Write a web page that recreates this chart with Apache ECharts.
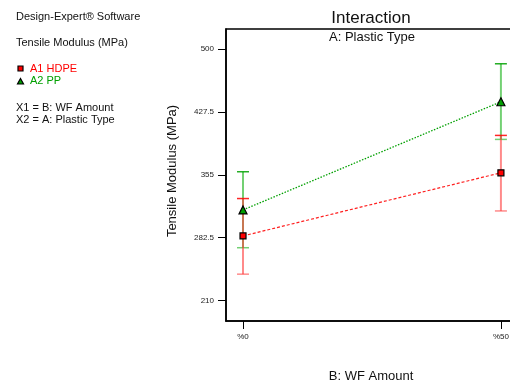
<!DOCTYPE html>
<html>
<head>
<meta charset="utf-8">
<script src="https://cdn.jsdelivr.net/npm/echarts@6/dist/echarts.min.js"></script>
<style>html,body{margin:0;padding:0;background:#fff;}#c{width:510px;height:385px;}</style>
</head>
<body>
<div id="c"></div>
<script>
// ---- data ----
var categories = ['%0', '%50'];
var xValues = [0, 50];
var yTicks = [210, 282.5, 355, 427.5, 500];
var hdpeMean = [284.5, 357.3];
var hdpeLow = [240.4, 313.3];
var hdpeHigh = [327.6, 400.4];
var ppMean = [314.5, 439.2];
var ppLow = [270.9, 395.8];
var ppHigh = [358.5, 483.0];

var FONT = "'Liberation Sans', Arial, sans-serif";
var RED = '#ff0000';
var GREEN = '#00a000';

var chart = echarts.init(document.getElementById('c'), null, {renderer: 'canvas'});

var errData = [];
for (var i = 0; i < xValues.length; i++) {
  errData.push([xValues[i], ppLow[i], ppHigh[i], 1]);
  errData.push([xValues[i], hdpeLow[i], hdpeHigh[i], 0]);
}

function toPairs(vals) {
  return vals.map(function (v, i) { return [xValues[i], v]; });
}

var option = {
  animation: false,
  backgroundColor: '#fff',
  grid: {left: 226, top: 29, width: 294, height: 292, outerBoundsMode: 'none', containLabel: false,
    show: true, borderColor: '#000', borderWidth: 1.5},
  xAxis: {
    type: 'value', min: -3.3, max: 53.7,
    splitLine: {show: false},
    axisLine: {show: true, onZero: false, lineStyle: {color: '#000', width: 1.5}},
    axisTick: {show: true, customValues: xValues, length: 8, lineStyle: {color: '#000', width: 1}},
    axisLabel: {show: true, customValues: xValues, margin: 12, fontSize: 8, color: '#222', fontFamily: FONT,
      formatter: function (v) { var k = xValues.indexOf(v); return k >= 0 ? categories[k] : ''; }}
  },
  yAxis: {
    type: 'value', min: 186.4, max: 523.1,
    splitLine: {show: false},
    axisLine: {show: true, onZero: false, lineStyle: {color: '#000', width: 1.5}},
    axisTick: {show: true, customValues: yTicks, length: 8, lineStyle: {color: '#000', width: 1}},
    axisLabel: {show: true, customValues: yTicks, margin: 12, fontSize: 8, color: '#222', fontFamily: FONT,
      formatter: function (v) { return String(v); }}
  },
  graphic: [
    {type: 'text', left: 16, top: 11, style: {text: 'Design-Expert® Software', font: '11px ' + FONT, fill: '#111'}},
    {type: 'text', left: 16, top: 37, style: {text: 'Tensile Modulus (MPa)', font: '11px ' + FONT, fill: '#111'}},
    {type: 'rect', shape: {x: 18, y: 66, width: 5, height: 5}, style: {fill: RED, stroke: '#000', lineWidth: 1.2}},
    {type: 'text', left: 30, top: 63, style: {text: 'A1 HDPE', font: '11px ' + FONT, fill: RED}},
    {type: 'polygon', shape: {points: [[20.5, 78.5], [23.5, 84], [17.5, 84]]}, style: {fill: GREEN, stroke: '#000', lineWidth: 1.2}},
    {type: 'text', left: 30, top: 75, style: {text: 'A2 PP', font: '11px ' + FONT, fill: GREEN}},
    {type: 'text', left: 16, top: 102, style: {text: 'X1 = B: WF Amount', font: '11px ' + FONT, fill: '#111'}},
    {type: 'text', left: 16, top: 114, style: {text: 'X2 = A: Plastic Type', font: '11px ' + FONT, fill: '#111'}},
    {type: 'text', x: 371, y: 18, style: {text: 'Interaction', font: '17px ' + FONT, fill: '#111', align: 'center', verticalAlign: 'middle'}},
    {type: 'text', x: 372, y: 37, style: {text: 'A: Plastic Type', font: '13px ' + FONT, fill: '#111', align: 'center', verticalAlign: 'middle'}},
    {type: 'text', x: 371, y: 376, style: {text: 'B: WF Amount', font: '13px ' + FONT, fill: '#111', align: 'center', verticalAlign: 'middle'}},
    {type: 'text', x: 172, y: 171, rotation: Math.PI / 2, style: {text: 'Tensile Modulus (MPa)', font: '13px ' + FONT, fill: '#111', align: 'center', verticalAlign: 'middle'}}
  ],
  series: [
    {
      type: 'custom', z: 1,
      data: errData,
      renderItem: function (params, api) {
        var x = api.value(0), lo = api.value(1), hi = api.value(2), s = api.value(3);
        var pLo = api.coord([x, lo]), pHi = api.coord([x, hi]);
        var lineCol = s === 0 ? 'rgba(255,60,60,0.6)' : 'rgba(0,170,0,0.55)';
        var capCol = s === 0 ? 'rgba(255,0,0,0.85)' : 'rgba(0,160,0,0.85)';
        var w = 6;
        return {
          type: 'group',
          children: [
            {type: 'line', shape: {x1: pLo[0], y1: pLo[1], x2: pHi[0], y2: pHi[1]}, style: {stroke: lineCol, lineWidth: 2}},
            {type: 'line', shape: {x1: pHi[0] - w, y1: pHi[1], x2: pHi[0] + w, y2: pHi[1]}, style: {stroke: capCol, lineWidth: 1.5}},
            {type: 'line', shape: {x1: pLo[0] - w, y1: pLo[1], x2: pLo[0] + w, y2: pLo[1]}, style: {stroke: lineCol, lineWidth: 1.5}}
          ]
        };
      }
    },
    {
      type: 'line', name: 'A1 HDPE', z: 3,
      data: toPairs(hdpeMean),
      symbol: 'rect', symbolSize: 6,
      itemStyle: {color: RED, borderColor: '#000', borderWidth: 1.2},
      lineStyle: {color: '#ff2020', width: 1.2, type: [3, 2]}
    },
    {
      type: 'line', name: 'A2 PP', z: 3,
      data: toPairs(ppMean),
      symbol: 'triangle', symbolSize: 8,
      itemStyle: {color: GREEN, borderColor: '#000', borderWidth: 1.2},
      lineStyle: {color: '#00a000', width: 1.3, type: [1.5, 1.5]}
    }
  ]
};
chart.setOption(option);
</script>
</body>
</html>
